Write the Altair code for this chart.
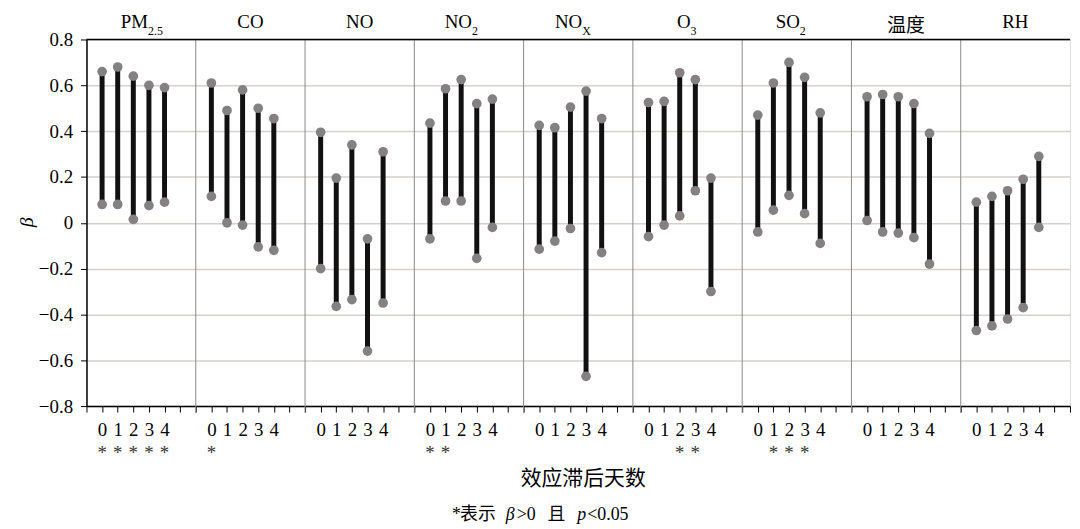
import altair as alt
import pandas as pd

SERIF = "Liberation Serif"
CJK = "Noto Sans CJK SC"

pollutants = ["PM2.5", "CO", "NO", "NO2", "NOX", "O3", "SO2", "温度", "RH"]
title_main = ["PM", "CO", "NO", "NO", "NO", "O", "SO", "温度", "RH"]
title_sub = ["2.5", "", "", "2", "X", "3", "2", "", ""]
lags = [0, 1, 2, 3, 4]

upper = [
    [0.66, 0.68, 0.64, 0.60, 0.59],
    [0.61, 0.49, 0.58, 0.50, 0.455],
    [0.395, 0.195, 0.34, -0.07, 0.31],
    [0.435, 0.585, 0.625, 0.52, 0.54],
    [0.425, 0.415, 0.505, 0.575, 0.455],
    [0.525, 0.53, 0.655, 0.625, 0.195],
    [0.47, 0.61, 0.70, 0.635, 0.48],
    [0.55, 0.56, 0.55, 0.52, 0.39],
    [0.09, 0.115, 0.14, 0.19, 0.29],
]
lower = [
    [0.08, 0.08, 0.015, 0.075, 0.09],
    [0.115, 0.0, -0.01, -0.105, -0.12],
    [-0.20, -0.365, -0.335, -0.56, -0.35],
    [-0.07, 0.095, 0.095, -0.155, -0.02],
    [-0.115, -0.08, -0.025, -0.67, -0.13],
    [-0.06, -0.01, 0.03, 0.14, -0.30],
    [-0.04, 0.055, 0.12, 0.04, -0.09],
    [0.01, -0.04, -0.045, -0.065, -0.18],
    [-0.47, -0.45, -0.42, -0.37, -0.02],
]
significant = [[0, 1, 2, 3, 4], [0], [], [0, 1], [], [2, 3], [1, 2, 3], [], []]

SLOT = 7  # lag slots per panel: -1 .. 6
rows = []
for i, p in enumerate(pollutants):
    for j, lag in enumerate(lags):
        rows.append({"pollutant": p, "lag": lag, "x": SLOT * i + lag,
                     "hi": upper[i][j], "lo": lower[i][j]})
df = pd.DataFrame(rows)
df_sig = pd.DataFrame([{"x": SLOT * i + lag} for i, s in enumerate(significant) for lag in s])
df_sep = pd.DataFrame({"x": [SLOT * i - 1 for i in range(1, len(pollutants))]})

W, H = 990, 369
xmax = SLOT * len(pollutants) - 1
xscale = alt.Scale(domain=[-1, xmax], nice=False, zero=False)
yscale = alt.Scale(domain=[-0.8, 0.8], nice=False, zero=False)

xaxis = alt.Axis(
    values=list(range(-1, xmax + 1)),
    labelExpr="((datum.value % 7) + 7) % 7 <= 4 ? '' + (((datum.value % 7) + 7) % 7) : ''",
    ticks=True, tickSize=6, tickColor="black", tickWidth=1,
    domainColor="black", domainWidth=1.5,
    grid=False, labelFont=SERIF, labelFontSize=19, labelColor="black",
    labelPadding=9, labelOverlap=False, labelFlush=False, labelBound=False, title=None,
)
yaxis = alt.Axis(
    values=[-0.8, -0.6, -0.4, -0.2, 0, 0.2, 0.4, 0.6, 0.8],
    labelExpr="datum.value == 0 ? '0' : replace(format(datum.value, '.1f'), '-', '\u2212')",
    ticks=True, tickSize=6, tickColor="black", domainColor="black", domainWidth=1.5,
    grid=True, gridColor="#d6d1cd", gridWidth=1.5,
    labelFont=SERIF, labelFontSize=19, labelColor="black", labelPadding=8,
    labelOverlap=False, title=None,
)


def X():
    return alt.X("x:Q", scale=xscale, axis=xaxis)


base = alt.Chart(df)
bars = base.mark_rule(strokeWidth=5, color="#111111").encode(
    x=X(),
    y=alt.Y("lo:Q", scale=yscale, axis=yaxis),
    y2="hi:Q",
)
dots_hi = base.mark_circle(size=95, color="#858081", opacity=1).encode(
    x=X(), y=alt.Y("hi:Q", scale=yscale, axis=yaxis))
dots_lo = base.mark_circle(size=95, color="#858081", opacity=1).encode(
    x=X(), y=alt.Y("lo:Q", scale=yscale, axis=yaxis))

seps = alt.Chart(df_sep).mark_rule(color="#8a8a8a", strokeWidth=1).encode(
    x=X(), y=alt.value(0), y2=alt.value(H + 7))

one = pd.DataFrame({"a": [0]})
top_border = alt.Chart(one).mark_rule(color="black", strokeWidth=1.5).encode(
    x=alt.value(0), x2=alt.value(W), y=alt.value(0))

stars = alt.Chart(df_sig).mark_text(
    text="*", font=SERIF, fontSize=19, color="#333333", baseline="alphabetic"
).encode(x=X(), y=alt.value(422))

layers = [seps, bars, dots_hi, dots_lo, top_border, stars]

sub_w = {"2.5": 14, "2": 6, "X": 8, "3": 6}
for i, (m, s) in enumerate(zip(title_main, title_sub)):
    dft = pd.DataFrame({"x": [SLOT * i + 2.5], "m": [m], "s": [s]})
    is_cjk = any(ord(c) > 127 for c in m)
    font = CJK if is_cjk else SERIF
    if s:
        half = sub_w[s] / 2
        layers.append(alt.Chart(dft).mark_text(
            font=font, fontSize=19, align="right", baseline="alphabetic", dx=half, color="black"
        ).encode(x=X(), y=alt.value(-12), text="m:N"))
        layers.append(alt.Chart(dft).mark_text(
            font=font, fontSize=12, align="left", baseline="alphabetic", dx=half, color="black"
        ).encode(x=X(), y=alt.value(-5), text="s:N"))
    else:
        layers.append(alt.Chart(dft).mark_text(
            font=font, fontSize=19, align="center", baseline="alphabetic", color="black"
        ).encode(x=X(), y=alt.value(-8 if is_cjk else -12), text="m:N"))

# axis titles
layers.append(alt.Chart(one).mark_text(
    text="β", font=SERIF, fontSize=20, fontStyle="italic", angle=270, baseline="middle", color="black"
).encode(x=alt.value(-60), y=alt.value(184)))
layers.append(alt.Chart(one).mark_text(
    text="效应滞后天数", font=CJK, fontSize=21, baseline="middle", color="black"
).encode(x=alt.value(500), y=alt.value(442)))

# footnote
note_parts = [
    ("*", SERIF, "normal", 368),
    ("表示", CJK, "normal", 376),
    ("β", SERIF, "italic", 422),
    (">0", SERIF, "normal", 433),
    ("且", CJK, "normal", 464),
    ("p", SERIF, "italic", 494),
    ("<0.05", SERIF, "normal", 504),
]
for txt, font, style, px in note_parts:
    layers.append(alt.Chart(one).mark_text(
        text=txt, font=font, fontSize=18, fontStyle=style, align="left",
        baseline="alphabetic", color="black"
    ).encode(x=alt.value(px), y=alt.value(484)))

chart = alt.layer(*layers).properties(
    width=W, height=H,
    autosize=alt.AutoSizeParams(type="none"),
    padding={"left": 79, "top": 30, "right": 2, "bottom": 120},
).configure_view(stroke=None).configure(background="white").configure_axis(
    labelFont=SERIF, labelColor="black", tickColor="black", domainColor="black"
)

chart.save("out.html", embed_options={"renderer": "svg", "actions": False})
